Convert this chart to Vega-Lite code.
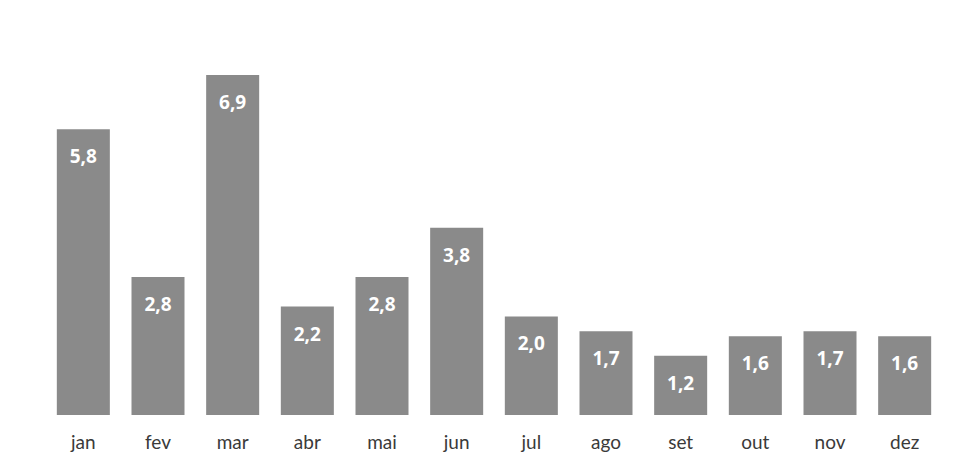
{
  "$schema": "https://vega.github.io/schema/vega-lite/v6.json",
  "width": 896,
  "height": 415,
  "autosize": {"type": "none"},
  "padding": {"left": 46, "top": 0, "right": 15, "bottom": 53},
  "background": "white",
  "config": {
    "view": {"stroke": null},
    "locale": {"number": {"decimal": ",", "thousands": ".", "grouping": [3], "currency": ["", ""]}}
  },
  "data": {
    "values": [
      {"mes": "jan", "valor": 5.8},
      {"mes": "fev", "valor": 2.8},
      {"mes": "mar", "valor": 6.9},
      {"mes": "abr", "valor": 2.2},
      {"mes": "mai", "valor": 2.8},
      {"mes": "jun", "valor": 3.8},
      {"mes": "jul", "valor": 2.0},
      {"mes": "ago", "valor": 1.7},
      {"mes": "set", "valor": 1.2},
      {"mes": "out", "valor": 1.6},
      {"mes": "nov", "valor": 1.7},
      {"mes": "dez", "valor": 1.6}
    ]
  },
  "encoding": {
    "x": {
      "field": "mes", "type": "nominal", "sort": null,
      "scale": {"paddingInner": 0.29, "paddingOuter": 0.145},
      "axis": {"title": null, "domain": false, "ticks": false, "labelAngle": 0, "labelFont": "Lato", "labelFontSize": 19, "labelColor": "#3a3a3a", "labelPadding": 18}
    },
    "y": {
      "field": "valor", "type": "quantitative",
      "scale": {"domain": [0, 8.42], "nice": false, "zero": true},
      "axis": null
    }
  },
  "layer": [
    {"mark": {"type": "bar", "color": "#8a8a8a"}},
    {
      "mark": {"type": "text", "color": "white", "font": "Open Sans", "fontWeight": "bold", "fontSize": 19, "baseline": "middle", "dy": 28},
      "encoding": {"text": {"field": "valor", "type": "quantitative", "format": ".1f"}}
    }
  ]
}
